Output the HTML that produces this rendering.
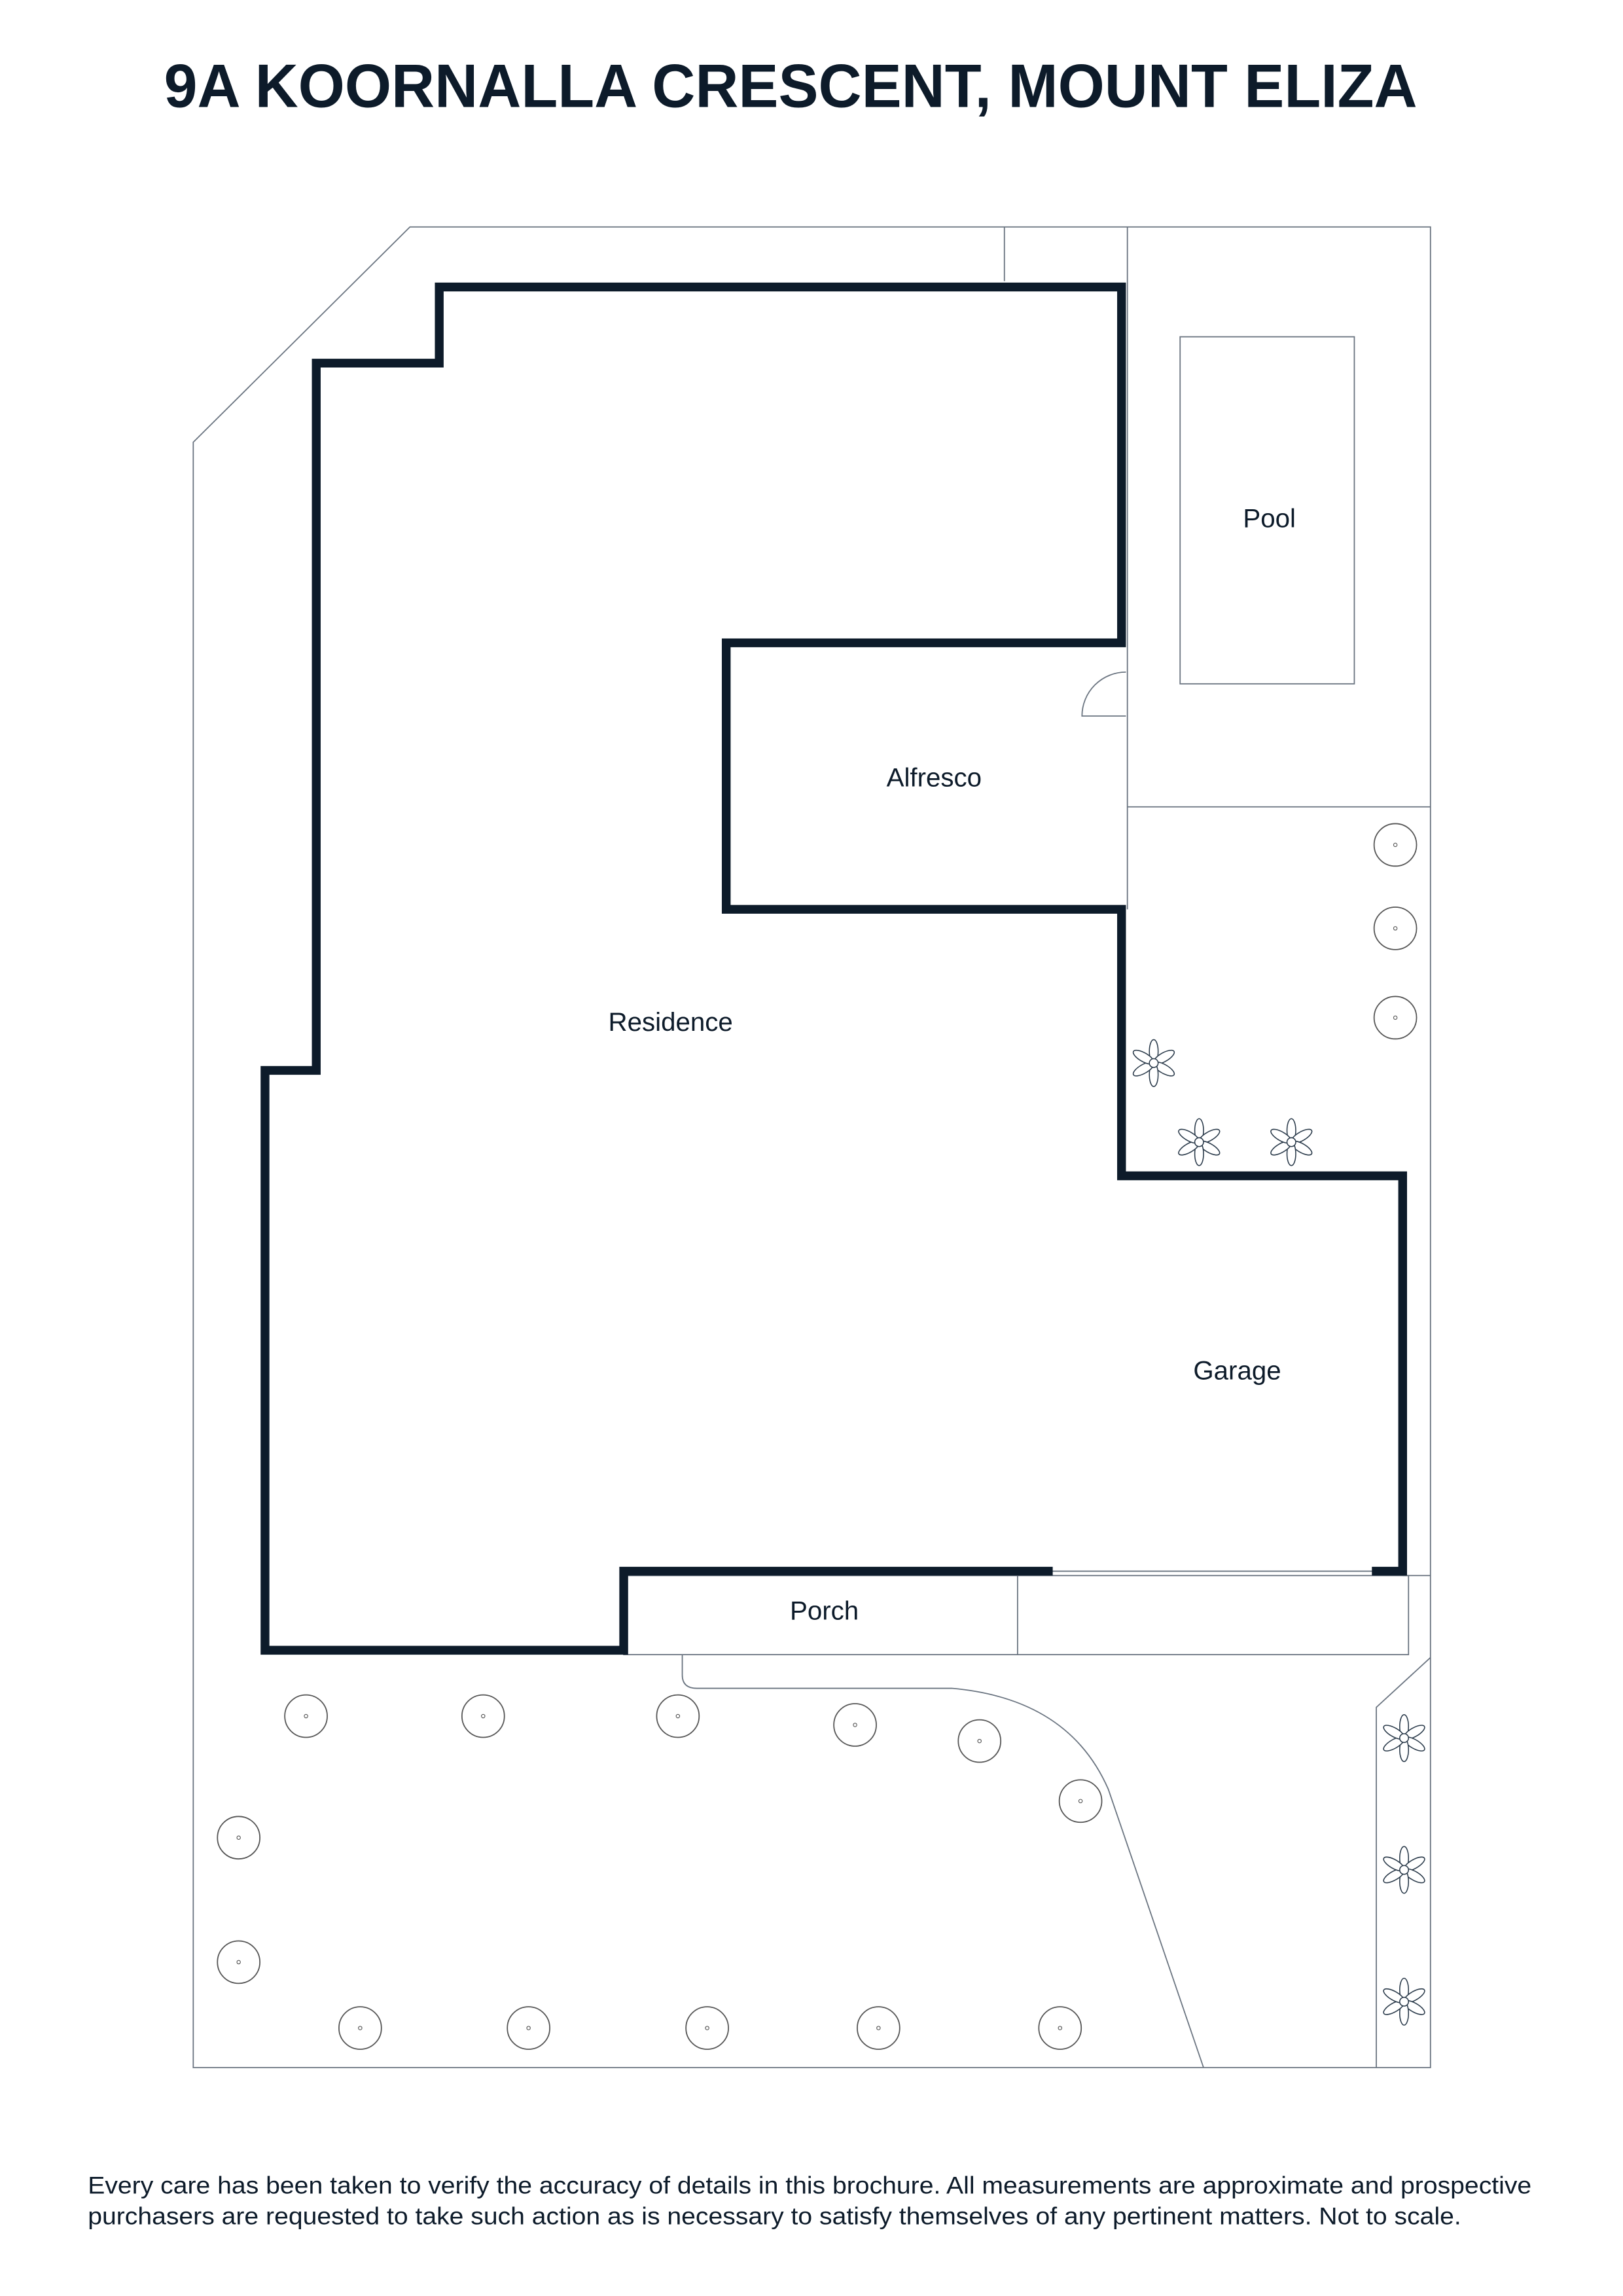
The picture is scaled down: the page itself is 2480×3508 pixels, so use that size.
<!DOCTYPE html>
<html><head><meta charset="utf-8"><style>
html,body{margin:0;padding:0;background:#fff;}
svg{display:block;}
text{font-family:"Liberation Sans",sans-serif;fill:#0d1b2a;}
</style></head><body>
<svg width="2480" height="3508" viewBox="0 0 1108.5 1568" preserveAspectRatio="none" xmlns="http://www.w3.org/2000/svg">
<defs>
<g id="tree"><circle r="14.5" fill="none" stroke="#555" stroke-width="0.8"/><circle r="1.2" fill="none" stroke="#555" stroke-width="0.5"/></g>
<g id="star" fill="#fff" stroke="#2a3a4a" stroke-width="0.7">
<ellipse cx="0" cy="-8" rx="3" ry="8" transform="rotate(0)"/>
<ellipse cx="0" cy="-8" rx="3" ry="8" transform="rotate(60)"/>
<ellipse cx="0" cy="-8" rx="3" ry="8" transform="rotate(120)"/>
<ellipse cx="0" cy="-8" rx="3" ry="8" transform="rotate(180)"/>
<ellipse cx="0" cy="-8" rx="3" ry="8" transform="rotate(240)"/>
<ellipse cx="0" cy="-8" rx="3" ry="8" transform="rotate(300)"/>
<circle r="3"/>
</g>
</defs>
<text x="112" y="73" font-size="42" font-weight="bold" textLength="856" lengthAdjust="spacingAndGlyphs">9A KOORNALLA CRESCENT, MOUNT ELIZA</text>

<g fill="none" stroke="#6a7480" stroke-width="0.8">
<path d="M280 155 H977 V1412 H132 V302 Z"/>
<path d="M686 155 V192"/>
<path d="M770 155 V621"/>
<path d="M770 551 H977"/>
<rect x="806" y="230" width="119" height="237"/>
<path d="M769 459 A30 30 0 0 0 739 489 H769"/>
<rect x="426" y="1076" width="536" height="54"/>
<path d="M695 1076 V1130"/>
<path d="M958 1076 H977"/>
<path d="M716 1073 H940"/>
<path d="M466 1130 V1144 Q466 1153 476 1153 H650 Q730 1160 757 1222 L822 1412"/>
<path d="M940 1412 V1166 L977 1132"/>
</g>

<path d="M940 1073 H958 V803 H766 V621 H496 V439 H766 V196 H300 V248 H216 V731 H181 V1127 H426 V1073 H716" fill="none" stroke="#0d1b2a" stroke-width="6" stroke-linejoin="miter" stroke-linecap="square"/>

<g>
<use href="#tree" x="209" y="1172"/><use href="#tree" x="330" y="1172"/><use href="#tree" x="463" y="1172"/>
<use href="#tree" x="584" y="1178"/><use href="#tree" x="669" y="1189"/><use href="#tree" x="738" y="1230"/>
<use href="#tree" x="163" y="1255"/><use href="#tree" x="163" y="1340"/>
<use href="#tree" x="246" y="1385"/><use href="#tree" x="361" y="1385"/><use href="#tree" x="483" y="1385"/>
<use href="#tree" x="600" y="1385"/><use href="#tree" x="724" y="1385"/>
<use href="#tree" x="953" y="577"/><use href="#tree" x="953" y="634"/><use href="#tree" x="953" y="695"/>
<use href="#star" x="788" y="726"/><use href="#star" x="819" y="780"/><use href="#star" x="882" y="780"/>
<use href="#star" x="959" y="1187"/><use href="#star" x="959" y="1277"/><use href="#star" x="959" y="1367"/>
</g>

<g font-size="18" text-anchor="middle">
<text x="867" y="360">Pool</text>
<text x="638" y="537">Alfresco</text>
<text x="458" y="704">Residence</text>
<text x="845" y="942">Garage</text>
<text x="563" y="1106">Porch</text>
</g>

<g font-size="16.5">
<text x="60" y="1498" textLength="986" lengthAdjust="spacingAndGlyphs">Every care has been taken to verify the accuracy of details in this brochure. All measurements are approximate and prospective</text>
<text x="60" y="1519" textLength="938" lengthAdjust="spacingAndGlyphs">purchasers are requested to take such action as is necessary to satisfy themselves of any pertinent matters. Not to scale.</text>
</g>
</svg>
</body></html>
